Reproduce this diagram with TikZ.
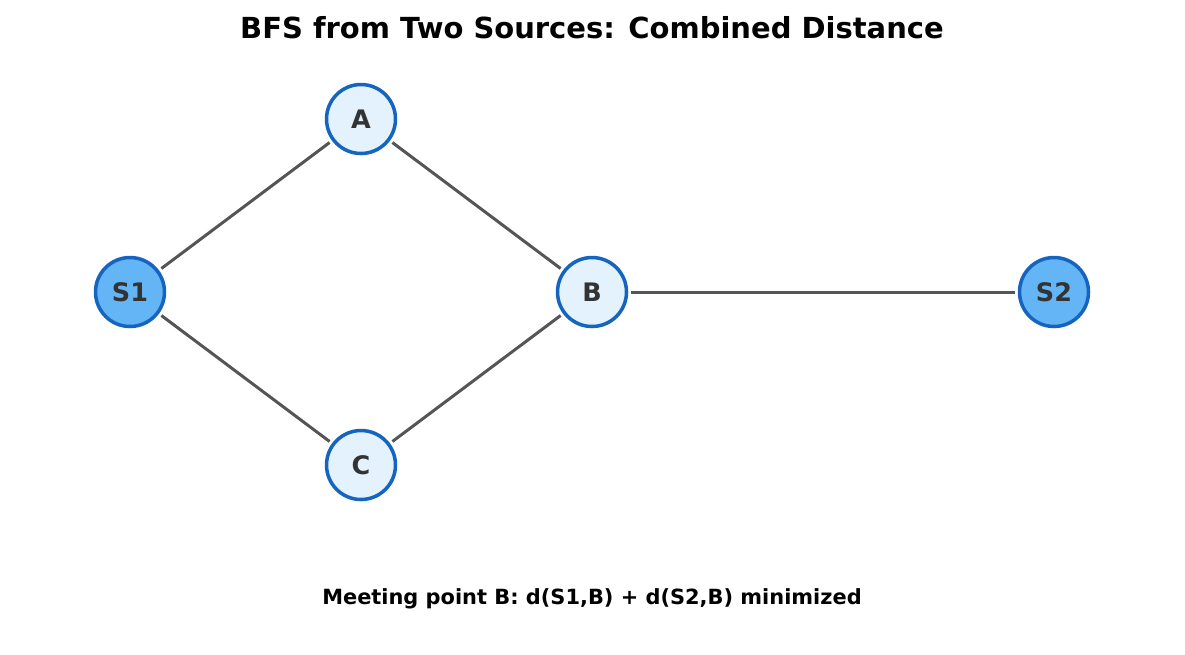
\documentclass[tikz,border=0pt]{standalone}
\usepackage{fontspec}
\setmainfont{DejaVu Sans}
\definecolor{edgegray}{HTML}{555555}
\definecolor{nodeblue}{HTML}{1565C0}
\definecolor{srcfill}{HTML}{64B5F6}
\definecolor{plainfill}{HTML}{E3F2FD}
\definecolor{labelgray}{HTML}{333333}
\tikzset{
    vertex/.style={circle, draw=nodeblue, line width=2pt, minimum size=1.38cm, inner sep=0pt,
        font=\fontsize{14.5}{16}\selectfont\bfseries, text=labelgray},
    source/.style={vertex, fill=srcfill},
    plain/.style={vertex, fill=plainfill},
    link/.style={draw=edgegray, line width=1.7pt, shorten <=0.06cm, shorten >=0.06cm}
}
\begin{document}
\begin{tikzpicture}[x=0.02cm, y=-0.02cm]
        \useasboundingbox (0, 0) rectangle (1185, 654);

        \node[font=\fontsize{16.5}{19}\selectfont\bfseries] (title) at (592, 28) {BFS from Two Sources: Combined Distance};

        \node[source] (s1) at (130, 292) {S1};
        \node[plain]  (a)  at (361, 119) {A};
        \node[plain]  (b)  at (592, 292) {B};
        \node[plain]  (c)  at (361, 465) {C};
        \node[source] (s2) at (1054, 292) {S2};

        \draw[link] (s1) -- (a);
        \draw[link] (s1) -- (c);
        \draw[link] (a) -- (b);
        \draw[link] (c) -- (b);
        \draw[link] (b) -- (s2);

        \node[font=\fontsize{11.9}{14}\selectfont\bfseries] (caption) at (592, 599) {Meeting point B: d(S1,B) + d(S2,B) minimized};
    \end{tikzpicture}
\end{document}
